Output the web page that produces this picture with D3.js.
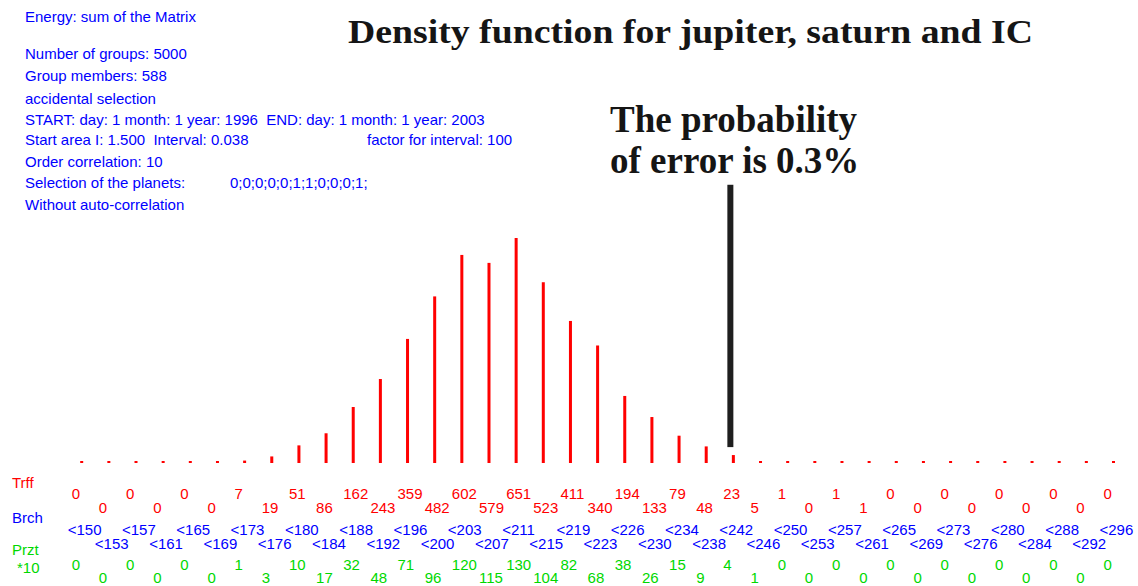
<!DOCTYPE html>
<html>
<head>
<meta charset="utf-8">
<script src="https://cdn.jsdelivr.net/npm/d3@7"></script>
<style>
  body { margin: 0; background: #fff; }
  svg text { white-space: pre; }
</style>
</head>
<body>
<div id="chart"></div>
<script>
// bins (upper bound of each class)
var brch = ["<150","<153","<157","<161","<165","<169","<173","<176","<180","<184",
            "<188","<192","<196","<200","<203","<207","<211","<215","<219","<223",
            "<226","<230","<234","<238","<242","<246","<250","<253","<257","<261",
            "<265","<269","<273","<276","<280","<284","<288","<292","<296"];
// hits per bin
var trff = [0,0,0,0,0,0,7,19,51,86,162,243,359,482,602,579,651,523,411,340,
            194,133,79,48,23,5,1,0,1,1,0,0,0,0,0,0,0,0,0];
// percent * 10
var przt = [0,0,0,0,0,0,1,3,10,17,32,48,71,96,120,115,130,104,82,68,
            38,26,15,9,4,1,0,0,0,0,0,0,0,0,0,0,0,0,0];

var infoLines = [
  "Energy: sum of the Matrix",
  "Number of groups: 5000",
  "Group members: 588",
  "accidental selection",
  "START: day: 1 month: 1 year: 1996  END: day: 1 month: 1 year: 2003",
  "Start area I: 1.500  Interval: 0.038",
  "Order correlation: 10",
  "Selection of the planets:",
  "Without auto-correlation"
];
var infoY = [22, 59, 81, 104, 125, 145, 167, 188, 210];
var infoExtra = [
  {text: "factor for interval: 100", x: 367, y: 145},
  {text: "0;0;0;0;0;1;1;0;0;0;1;", x: 230, y: 188}
];

var title = "Density function for jupiter, saturn and IC";
var note = ["The probability", "of error is 0.3%"];
// error marker, in bin / count units
var errorMarker = {bin: "<242", from: 46, to: 805};

var width = 1138, height = 586;
var red = "#ff0000", blue = "#0000ff", green = "#00d800";
var sans = "'Liberation Sans', Arial, sans-serif";
var serif = "'Liberation Serif', 'Times New Roman', serif";

var svg = d3.select("#chart").append("svg")
    .attr("width", width)
    .attr("height", height);

var x = d3.scalePoint()
    .domain(brch)
    .range([81.7, 1113.5]);

var y = d3.scaleLinear()
    .domain([0, d3.max(trff)])
    .range([463, 238]);

// info block
svg.append("g").selectAll("text")
    .data(infoLines)
  .enter().append("text")
    .attr("x", 25)
    .attr("y", function(d, i) { return infoY[i]; })
    .style("font-family", sans)
    .style("font-size", "15px")
    .style("fill", blue)
    .text(function(d) { return d; });

svg.append("g").selectAll("text")
    .data(infoExtra)
  .enter().append("text")
    .attr("x", function(d) { return d.x; })
    .attr("y", function(d) { return d.y; })
    .style("font-family", sans)
    .style("font-size", "15px")
    .style("fill", blue)
    .text(function(d) { return d.text; });

// title
svg.append("text")
    .attr("x", 348)
    .attr("y", 43)
    .attr("textLength", 685)
    .attr("lengthAdjust", "spacingAndGlyphs")
    .style("font-family", serif)
    .style("font-weight", "bold")
    .style("font-size", "34px")
    .style("fill", "#151515")
    .text(title);

// note
svg.append("g").selectAll("text")
    .data(note)
  .enter().append("text")
    .attr("x", 610)
    .attr("y", function(d, i) { return 132 + i * 41; })
    .style("font-family", serif)
    .style("font-weight", "bold")
    .style("font-size", "37px")
    .style("fill", "#151515")
    .text(function(d) { return d; });

// bars
svg.append("g").selectAll("rect")
    .data(trff)
  .enter().append("rect")
    .attr("x", function(d, i) { return x(brch[i]) - 1.5; })
    .attr("width", 3)
    .attr("y", function(d) { return Math.min(y(d), y(0) - 2); })
    .attr("height", function(d) { return Math.max(2, y(0) - y(d)); })
    .style("fill", red);

// error marker
svg.append("rect")
    .attr("x", x(errorMarker.bin) - 6)
    .attr("width", 6)
    .attr("y", y(errorMarker.to))
    .attr("height", y(errorMarker.from) - y(errorMarker.to))
    .style("fill", "#1e1e1e");

// row captions
var captions = [
  {text: "Trff", x: 12, y: 488, color: red},
  {text: "Brch", x: 12, y: 523, color: blue},
  {text: "Przt", x: 12, y: 555, color: green},
  {text: "*10", x: 17, y: 573, color: green}
];
svg.append("g").selectAll("text")
    .data(captions)
  .enter().append("text")
    .attr("x", function(d) { return d.x; })
    .attr("y", function(d) { return d.y; })
    .style("font-family", sans)
    .style("font-size", "15px")
    .style("fill", function(d) { return d.color; })
    .text(function(d) { return d.text; });

// value rows, staggered
function row(values, dx, y0, y1, color) {
  svg.append("g").selectAll("text")
      .data(values)
    .enter().append("text")
      .attr("x", function(d, i) { return x(brch[i]) + dx; })
      .attr("y", function(d, i) { return i % 2 ? y1 : y0; })
      .style("font-family", sans)
      .style("font-size", "15px")
      .style("fill", color)
      .text(function(d) { return d; });
}
row(trff, -10, 499, 513, red);
row(brch, -14, 535, 549, blue);
row(przt, -10, 570, 583, green);
</script>
</body>
</html>
